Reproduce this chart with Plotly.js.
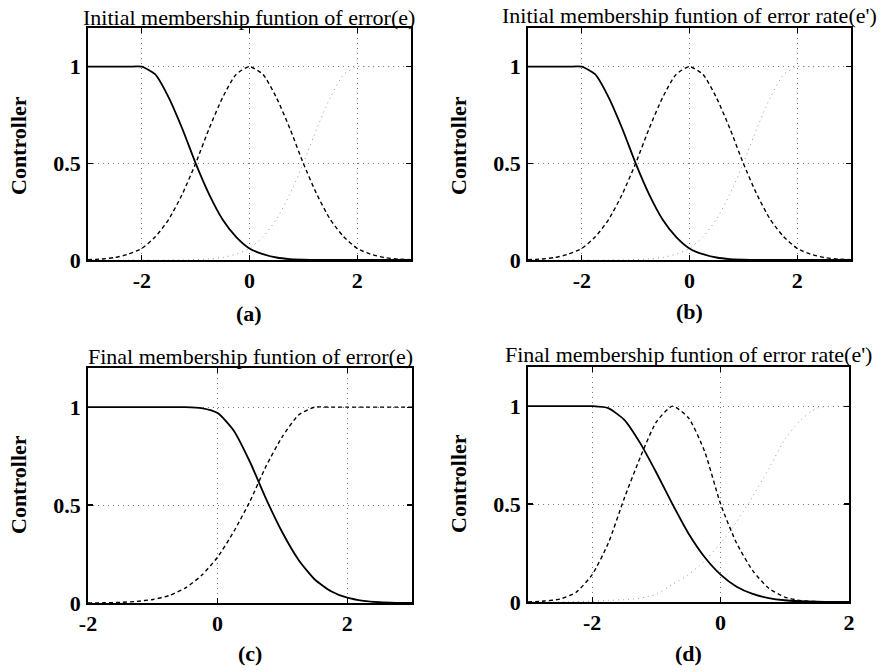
<!DOCTYPE html>
<html>
<head>
<meta charset="utf-8">
<script src="https://cdn.plot.ly/plotly-3.0.1.min.js"></script>
<style>html,body{margin:0;padding:0;background:#fff;}#plot{width:881px;height:672px;}</style>
</head>
<body>
<div id="plot"></div>
<script>
// ---- Panel (a): initial membership of error(e)
const xA = [-3,-2.75,-2.5,-2.25,-2,-1.75,-1.5,-1.25,-1,-0.75,-0.5,-0.25,0,0.25,0.5,0.75,1,1.25,1.5,1.75,2,2.25,2.5,2.75,3];
const solidA = [1,1,1,1,1,0.96,0.84,0.68,0.5,0.34,0.21,0.12,0.06,0.03,0.013,0.005,0.002,0,0,0,0,0,0,0,0];
const dashedA = [0.002,0.005,0.013,0.03,0.06,0.12,0.21,0.34,0.5,0.68,0.84,0.96,1,0.96,0.84,0.68,0.5,0.34,0.21,0.12,0.06,0.03,0.013,0.005,0.002];
const dottedA = [0,0,0,0,0,0,0,0,0.002,0.005,0.013,0.03,0.06,0.12,0.21,0.34,0.5,0.68,0.84,0.96,1,1,1,1,1];

// ---- Panel (b): initial membership of error rate(e')
const xB = [-3,-2.75,-2.5,-2.25,-2,-1.75,-1.5,-1.25,-1,-0.75,-0.5,-0.25,0,0.25,0.5,0.75,1,1.25,1.5,1.75,2,2.25,2.5,2.75,3];
const solidB = [1,1,1,1,1,0.96,0.84,0.68,0.5,0.34,0.21,0.12,0.06,0.03,0.013,0.005,0.002,0,0,0,0,0,0,0,0];
const dashedB = [0.002,0.005,0.013,0.03,0.06,0.12,0.21,0.34,0.5,0.68,0.84,0.96,1,0.96,0.84,0.68,0.5,0.34,0.21,0.12,0.06,0.03,0.013,0.005,0.002];
const dottedB = [0,0,0,0,0,0,0,0,0.002,0.005,0.013,0.03,0.06,0.12,0.21,0.34,0.5,0.68,0.84,0.96,1,1,1,1,1];

// ---- Panel (c): final membership of error(e)
const xC = [-2,-1.75,-1.5,-1.25,-1,-0.75,-0.5,-0.25,0,0.25,0.5,0.75,1,1.25,1.5,1.75,2,2.25,2.5,2.75,3];
const solidC = [1,1,1,1,1,1,1,0.995,0.97,0.88,0.72,0.53,0.36,0.22,0.12,0.06,0.027,0.011,0.004,0.001,0];
const dashedC = [0,0.001,0.003,0.008,0.018,0.038,0.076,0.14,0.234,0.365,0.52,0.70,0.85,0.96,1,1,1,1,1,1,1];

// ---- Panel (d): final membership of error rate(e')
const xD = [-3,-2.75,-2.5,-2.25,-2,-1.75,-1.5,-1.25,-1,-0.75,-0.5,-0.25,0,0.25,0.5,0.75,1,1.25,1.5,1.75,2];
const solidD = [1,1,1,1,1,0.99,0.93,0.81,0.66,0.50,0.35,0.23,0.14,0.078,0.041,0.02,0.009,0.004,0.0015,0,0];
const dashedD = [0,0.005,0.015,0.05,0.14,0.30,0.53,0.74,0.92,1,0.94,0.77,0.5,0.30,0.16,0.07,0.025,0.007,0.002,0,0];
const dottedD = [0,0,0,0.002,0.004,0.008,0.012,0.02,0.04,0.09,0.14,0.21,0.30,0.41,0.54,0.68,0.83,0.93,0.99,1,1];

const panelTitles = ["Initial membership funtion of error(e)", "Initial membership funtion of error rate(e')",
                     "Final membership funtion of error(e)", "Final membership funtion of error rate(e')"];
const panelLabels = ["(a)", "(b)", "(c)", "(d)"];
const yLabel = "Controller";
const yTickVals = [0, 0.5, 1];
const yTickText = ["0", "0.5", "1"];

const SERIF = '"Liberation Serif", "Times New Roman", serif';
const solidStyle = {color: '#000', width: 1.8, shape: 'spline', smoothing: 0.6};
const dashStyle = {color: '#000', width: 1.4, dash: '4px,3px', shape: 'spline', smoothing: 0.6};
const dotStyle = {color: '#9a9a9a', width: 1, dash: '1px,4px', shape: 'spline', smoothing: 0.6};

function tr(x, y, line, ax) {
  return {x: x, y: y, type: 'scatter', mode: 'lines', line: line, xaxis: 'x' + ax, yaxis: 'y' + ax, hoverinfo: 'skip', showlegend: false};
}
const data = [
  tr(xA, dottedA, dotStyle, ''), tr(xA, dashedA, dashStyle, ''), tr(xA, solidA, solidStyle, ''),
  tr(xB, dottedB, dotStyle, '2'), tr(xB, dashedB, dashStyle, '2'), tr(xB, solidB, solidStyle, '2'),
  tr(xC, dashedC, dashStyle, '3'), tr(xC, solidC, solidStyle, '3'),
  tr(xD, dottedD, dotStyle, '4'), tr(xD, dashedD, dashStyle, '4'), tr(xD, solidD, solidStyle, '4')
];

const W = 881, H = 672;
// plot boxes in pixels: [left, right, top, bottom]
const boxes = [[88, 411, 28, 260], [528, 851, 28, 260], [88, 412, 368, 603], [528, 849, 367, 602]];
const xRanges = [[-3, 3], [-3, 3], [-2, 3], [-3, 2]];

function xaxis(i) {
  const b = boxes[i];
  return {
    domain: [b[0] / W, b[1] / W], range: xRanges[i], anchor: i === 0 ? 'y' : 'y' + (i + 1),
    tickvals: [-2, 0, 2], ticktext: ['-2', '0', '2'],
    ticks: 'inside', ticklen: 5, tickwidth: 1.2, tickcolor: '#000',
    showline: true, linecolor: '#000', linewidth: 1.8, mirror: 'ticks',
    showgrid: true, gridcolor: '#777', gridwidth: 1, griddash: '1px,4px',
    zeroline: false, fixedrange: true,
    tickfont: {family: SERIF, size: 22, color: '#000', weight: 'bold'}
  };
}
function yaxis(i) {
  const b = boxes[i];
  return {
    domain: [1 - b[3] / H, 1 - b[2] / H], range: [0, 1.2], anchor: i === 0 ? 'x' : 'x' + (i + 1),
    tickvals: yTickVals, ticktext: yTickText,
    ticks: 'inside', ticklen: 5, tickwidth: 1.2, tickcolor: '#000',
    showline: true, linecolor: '#000', linewidth: 1.8, mirror: 'ticks',
    showgrid: true, gridcolor: '#777', gridwidth: 1, griddash: '1px,4px',
    zeroline: false, fixedrange: true, ticklabelstandoff: 1,
    tickfont: {family: SERIF, size: 22, color: '#000', weight: 'bold'}
  };
}

const titleY = [17, 15, 356, 354];
const labelY = [313, 311, 653, 653];
const yTitlePos = [[18, 146], [458, 146], [18, 485], [458, 484]];
const annotations = [];
boxes.forEach((b, i) => {
  const cx = (b[0] + b[1]) / 2;
  annotations.push({text: panelTitles[i], xref: 'paper', yref: 'paper', x: cx / W, y: 1 - titleY[i] / H,
    xanchor: 'center', yanchor: 'middle', showarrow: false, font: {family: SERIF, size: 22, color: '#000'}});
  annotations.push({text: panelLabels[i], xref: 'paper', yref: 'paper', x: cx / W, y: 1 - labelY[i] / H,
    xanchor: 'center', yanchor: 'middle', showarrow: false, font: {family: SERIF, size: 22, color: '#000', weight: 'bold'}});
  annotations.push({text: yLabel, xref: 'paper', yref: 'paper', x: yTitlePos[i][0] / W, y: 1 - yTitlePos[i][1] / H,
    xanchor: 'center', yanchor: 'middle', textangle: -90, showarrow: false, font: {family: SERIF, size: 22, color: '#000', weight: 'bold'}});
});

const layout = {
  width: W, height: H, margin: {l: 0, r: 0, t: 0, b: 0},
  paper_bgcolor: '#fff', plot_bgcolor: '#fff', showlegend: false,
  xaxis: xaxis(0), yaxis: yaxis(0),
  xaxis2: xaxis(1), yaxis2: yaxis(1),
  xaxis3: xaxis(2), yaxis3: yaxis(2),
  xaxis4: xaxis(3), yaxis4: yaxis(3),
  annotations: annotations
};
Plotly.newPlot('plot', data, layout, {displayModeBar: false, staticPlot: true});
</script>
</body>
</html>
